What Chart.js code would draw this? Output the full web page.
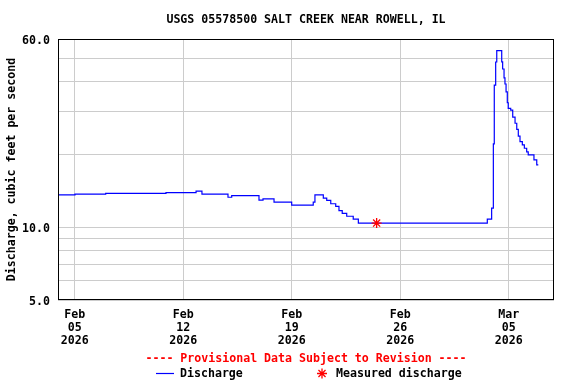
<!DOCTYPE html>
<html><head><meta charset="utf-8">
<script src="https://cdn.jsdelivr.net/npm/chart.js@4"></script>
<style>html,body{margin:0;padding:0;background:#fff}#wrap{width:576px;height:384px}</style>
</head><body><div id="wrap"><canvas id="c" width="576" height="384"></canvas></div>
<script>
const FONT = '"DejaVu Sans Mono", "Liberation Mono", monospace';
const chartTitle = 'USGS 05578500 SALT CREEK NEAR ROWELL, IL';
const yAxisTitle = 'Discharge, cubic feet per second';
const provisionalText = '---- Provisional Data Subject to Revision ----';
const seriesNames = ['Discharge', 'Measured discharge'];

// days since Feb 05 2026 00:00 (x axis shows Feb 03 ~22h to Mar 07 ~22h)
const xMin = -1.077, xMax = 30.923;
const dayOffsets = [-1.08, 0.02, 2.0, 5.89, 7.83, 8.21, 9.89, 10.13, 11.89, 12.15, 12.86, 14.0,
  15.39, 15.5, 16.04, 16.26, 16.52, 16.84, 17.05, 17.26, 17.55, 17.97, 18.3, 26.62, 26.9,
  27.01, 27.07, 27.16, 27.23, 27.55, 27.61, 27.70, 27.76, 27.83, 27.91, 27.97, 28.13, 28.26,
  28.41, 28.52, 28.62, 28.73, 28.88, 29.01, 29.16, 29.26, 29.63, 29.81, 29.91];
const discharge = [13.6, 13.7, 13.8, 13.9, 14.1, 13.7, 13.3, 13.5, 12.95, 13.1, 12.7, 12.35,
  12.7, 13.6, 13.2, 12.9, 12.5, 12.2, 11.7, 11.4, 11.1, 10.8, 10.4, 10.8, 12.0,
  22.1, 38.7, 48.2, 53.7, 48.3, 45.1, 41.4, 39.1, 36.3, 32.7, 31.0, 30.5, 28.5,
  26.9, 25.4, 23.8, 22.6, 21.9, 21.2, 20.5, 19.9, 19.0, 18.1, 18.1];
const measuredDays = [19.48];
const measuredValues = [10.4];

const xTickDays = [0, 7, 14, 21, 28];
const xTickLabels = [['Feb','05','2026'], ['Feb','12','2026'], ['Feb','19','2026'], ['Feb','26','2026'], ['Mar','05','2026']];
const yGridValues = [5, 6, 7, 8, 9, 10, 20, 30, 40, 50, 60];
const yTickLabels = {5: '5.0', 10: '10.0', 60: '60.0'};

const fontSpec = {family: FONT, size: 11.6, weight: 'bold'};

function drawStar(ctx, x, y, r) {
  ctx.beginPath();
  for (let i = 0; i < 4; i++) {
    const a = i * Math.PI / 4;
    ctx.moveTo(x - r * Math.cos(a), y - r * Math.sin(a));
    ctx.lineTo(x + r * Math.cos(a), y + r * Math.sin(a));
  }
  ctx.stroke();
}

const decor = {
  id: 'decor',
  afterDraw(chart) {
    const ctx = chart.ctx, a = chart.chartArea;
    ctx.save();
    ctx.strokeStyle = '#000'; ctx.lineWidth = 1;
    ctx.strokeRect(Math.round(a.left) + 0.5, Math.round(a.top) + 0.5, Math.round(a.right - a.left) - 1, Math.round(a.bottom - a.top) - 1);
    ctx.font = 'bold 11.6px ' + FONT;
    ctx.textBaseline = 'middle';
    ctx.textAlign = 'center';
    ctx.fillStyle = '#000';
    ctx.fillText(chartTitle, 306, 20);
    ctx.fillStyle = '#ff0000';
    ctx.fillText(provisionalText, 306, 359);
    ctx.textAlign = 'left';
    ctx.fillStyle = '#000';
    ctx.strokeStyle = '#0000ff'; ctx.lineWidth = 1.2;
    ctx.beginPath(); ctx.moveTo(156, 373.5); ctx.lineTo(174, 373.5); ctx.stroke();
    ctx.fillText(seriesNames[0], 180, 374);
    ctx.strokeStyle = '#ff0000'; ctx.lineWidth = 1.3;
    drawStar(ctx, 322, 373.5, 5);
    ctx.fillText(seriesNames[1], 336, 374);
    ctx.restore();
  }
};

new Chart(document.getElementById('c'), {
  type: 'line',
  data: {
    datasets: [
      {
        label: seriesNames[1],
        data: measuredDays.map((d, i) => ({x: d, y: measuredValues[i]})),
        showLine: false,
        pointStyle: 'star',
        pointRadius: 5,
        pointBorderColor: '#ff0000',
        pointBackgroundColor: '#ff0000',
        pointBorderWidth: 1.3,
        order: 0
      },
      {
        label: seriesNames[0],
        data: dayOffsets.map((d, i) => ({x: d, y: discharge[i]})),
        borderColor: '#0000ff',
        borderWidth: 1.2,
        stepped: true,
        pointRadius: 0,
        fill: false,
        order: 1
      }
    ]
  },
  options: {
    responsive: false,
    animation: false,
    devicePixelRatio: 1,
    layout: {padding: {top: 39, right: 22, bottom: 34, left: 0}},
    plugins: {legend: {display: false}, tooltip: {enabled: false}, title: {display: false}},
    scales: {
      x: {
        type: 'linear', min: xMin, max: xMax,
        afterBuildTicks: s => { s.ticks = xTickDays.map(v => ({value: v})); },
        afterFit: s => { s.height = 50; },
        ticks: {
          autoSkip: false, maxRotation: 0, padding: 8, color: '#000',
          font: Object.assign({lineHeight: 1.15}, fontSpec),
          callback: (v) => { const i = xTickDays.indexOf(v); return i >= 0 ? xTickLabels[i] : ''; }
        },
        grid: {color: '#cccccc', lineWidth: 1, drawTicks: false},
        border: {display: false}
      },
      y: {
        type: 'logarithmic', min: 5, max: 60,
        afterBuildTicks: s => { s.ticks = yGridValues.map(v => ({value: v})); },
        afterFit: s => { s.width = 58; },
        ticks: {
          autoSkip: false, padding: 8, labelOffset: 2, color: '#000', font: fontSpec,
          callback: (v) => yTickLabels[v] || ''
        },
        grid: {color: '#cccccc', lineWidth: 1, drawTicks: false},
        border: {display: false},
        title: {display: true, text: yAxisTitle, color: '#000', font: fontSpec, padding: {top: 5, bottom: 0}}
      }
    }
  },
  plugins: [decor]
});
</script></body></html>
